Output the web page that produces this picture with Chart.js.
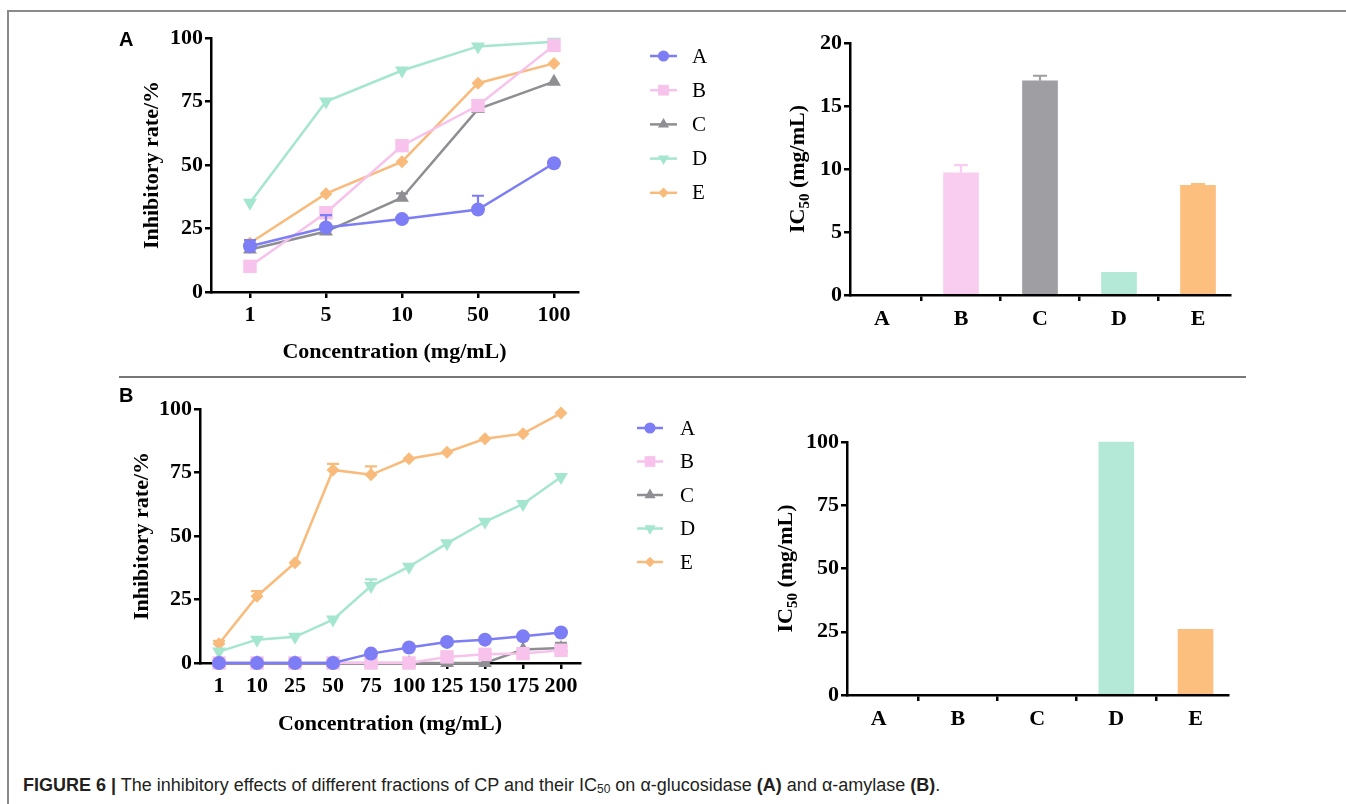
<!DOCTYPE html>
<html>
<head>
<meta charset="utf-8">
<script src="https://cdn.jsdelivr.net/npm/chart.js@4.4.1/dist/chart.umd.min.js"></script>
<style>
  body { margin: 0; background: #fff; width: 1346px; height: 804px; position: relative; overflow: hidden; font-family: 'Liberation Sans', Arial, sans-serif; }
  .box { position: absolute; }
  canvas { display: block; }
  .rule { position: absolute; background: #8a8a8a; }
  .panel { position: absolute; font: bold 20px 'Liberation Sans', Arial, sans-serif; color: #000; line-height: 1; z-index: 5; }
  #caption { position: absolute; left: 23px; top: 775px; font-size: 18px; color: #231f20; white-space: nowrap; }
  #caption sub { font-size: 12px; vertical-align: -2px; }
</style>
</head>
<body>
<div class="rule" style="left:7px;top:10px;width:1339px;height:2px;"></div>
<div class="rule" style="left:7px;top:10px;width:2px;height:794px;"></div>
<div class="rule" style="left:119px;top:376px;width:1127px;height:2px;background:#777;"></div>

<div class="panel" style="left:119px;top:29px;">A</div>
<div class="panel" style="left:119px;top:385px;">B</div>

<div class="box" style="left:100px;top:20px;"><canvas id="glucLine" width="620" height="360"></canvas></div>
<div class="box" style="left:740px;top:20px;"><canvas id="glucBar" width="492" height="340"></canvas></div>
<div class="box" style="left:90px;top:380px;"><canvas id="amylLine" width="620" height="360"></canvas></div>
<div class="box" style="left:737px;top:420px;"><canvas id="amylBar" width="493" height="320"></canvas></div>

<div id="caption"><b>FIGURE 6 |</b> The inhibitory effects of different fractions of CP and their IC<sub>50</sub> on α-glucosidase <b>(A)</b> and α-amylase <b>(B)</b>.</div>

<script>
// categorias e séries
const fractions = ['A', 'B', 'C', 'D', 'E'];
const concGluc = ['1', '5', '10', '50', '100'];
const concAmyl = ['1', '10', '25', '50', '75', '100', '125', '150', '175', '200'];

// alfa-glucosidase (%)
const glucA = [18.0, 25.4, 28.7, 32.5, 50.7];
const glucB = [10.1, 31.2, 57.6, 73.4, 97.1];
const glucC = [16.7, 23.8, 37.1, 72.0, 82.8];
const glucD = [35.1, 75.0, 87.2, 96.7, 98.5];
const glucE = [19.3, 38.7, 51.3, 82.2, 90.0];
const glucErrA = [2.4, 4.9, 0, 5.4, 0];
const glucErrC = [0, 0, 1.7, 0, 0];

// alfa-amilase (%)
const amylA = [0, 0, 0, 0, 3.7, 6.1, 8.3, 9.2, 10.5, 12.0];
const amylB = [0, 0, 0, 0, 0, 0, 2.4, 3.4, 3.7, 5.0];
const amylC = [0, 0, 0, 0, 0, 0, 0, 0, 5.3, 5.9];
const amylD = [4.5, 9.2, 10.3, 17.1, 30.3, 37.9, 47.1, 55.6, 62.6, 73.2];
const amylE = [7.6, 26.3, 39.5, 76.0, 74.1, 80.4, 83.0, 88.3, 90.3, 98.4];
const amylErrC = [0, 0, 0, 0, 0, 0, 0, 0, 0, 2.0];
const amylErrD = [0, 0, 0, 0, 2.6, 0, 0, 0, 0, 0];
const amylErrE = [1.1, 2.0, 0, 2.4, 3.3, 0, 0, 0, 0, 0];

// IC50 (mg/mL) - null = não determinado
const ic50Gluc = [null, 9.7, 17.0, 1.8, 8.7];
const ic50GlucErr = [0, 0.6, 0.4, 0, 0.1];
const ic50Amyl = [null, null, null, 100, 26];

const yTitle = 'Inhibitory rate/%';
const xTitle = 'Concentration (mg/mL)';
const icTitleParts = ['IC', '50', ' (mg/mL)'];

const lineColors = ['#7d7df5', '#f7c2eb', '#8e8e93', '#a5e6d0', '#f9bb7b'];
const barColors = ['#7d7df5', '#f9cdef', '#9e9ea3', '#b4e9d7', '#fdbf7e'];
const pointStyles = ['circle', 'rect', 'triangle', 'triangle', 'rectRot'];
const pointRot = [0, 0, 0, 180, 0];
const pointSizes = [7, 9.5, 8, 8, 6.5];

const SERIF = "'Liberation Serif', 'Times New Roman', serif";
Chart.defaults.color = '#000';
Chart.defaults.font.family = SERIF;

// barras de erro (só para cima, estilo GraphPad)
const errorBars = {
    id: 'errorBars',
    beforeDatasetDraw(chart, args) {
        const ds = chart.data.datasets[args.index];
        if (!ds.errors) return;
        const yScale = chart.scales.y;
        const ctx = chart.ctx;
        const cap = ds.errCap || 6;
        ctx.save();
        ctx.lineWidth = 2.2;
        args.meta.data.forEach((el, i) => {
            const e = ds.errors[i];
            if (!e) return;
            const raw = ds.data[i];
            const val = typeof raw === 'object' ? raw.y : raw;
            if (val === null) return;
            const yTop = yScale.getPixelForValue(val + e);
            ctx.strokeStyle = Array.isArray(ds.borderColor) ? ds.borderColor[i] : ds.borderColor;
            ctx.beginPath();
            ctx.moveTo(el.x, el.y);
            ctx.lineTo(el.x, yTop);
            ctx.moveTo(el.x - cap, yTop);
            ctx.lineTo(el.x + cap, yTop);
            ctx.stroke();
        });
        ctx.restore();
    }
};

// legenda ao lado com linha + marcador
const sideLegend = {
    id: 'sideLegend',
    afterDraw(chart, args, opts) {
        if (!opts || opts.x === undefined) return;
        const ctx = chart.ctx;
        chart.data.datasets.forEach((ds, i) => {
            const y = opts.y + i * opts.step;
            ctx.save();
            ctx.strokeStyle = ds.borderColor;
            ctx.lineWidth = 2.5;
            ctx.beginPath();
            ctx.moveTo(opts.x, y);
            ctx.lineTo(opts.x + opts.len, y);
            ctx.stroke();
            ctx.fillStyle = ds.borderColor;
            Chart.helpers.drawPoint(ctx, {
                pointStyle: ds.pointStyle, rotation: ds.pointRotation,
                radius: ds.pointRadius * 0.8, borderWidth: 0
            }, opts.x + opts.len / 2, y);
            ctx.fillStyle = '#000';
            ctx.font = '21px ' + SERIF;
            ctx.textBaseline = 'middle';
            ctx.fillText(ds.label, opts.textX, y + 1);
            ctx.restore();
        });
    }
};

// título IC50 com subscrito
const icTitle = {
    id: 'icTitle',
    afterDraw(chart, args, opts) {
        if (!opts || opts.x === undefined) return;
        const ctx = chart.ctx, area = chart.chartArea;
        const big = 'bold 22px ' + SERIF, small = 'bold 15px ' + SERIF;
        ctx.save();
        ctx.font = big;
        const w1 = ctx.measureText(icTitleParts[0]).width;
        const w3 = ctx.measureText(icTitleParts[2]).width;
        ctx.font = small;
        const w2 = ctx.measureText(icTitleParts[1]).width;
        ctx.translate(opts.x, (area.top + area.bottom) / 2);
        ctx.rotate(-Math.PI / 2);
        ctx.fillStyle = '#000';
        ctx.textBaseline = 'alphabetic';
        let x = -(w1 + w2 + w3) / 2;
        const base = 7;
        ctx.font = big; ctx.fillText(icTitleParts[0], x, base); x += w1;
        ctx.font = small; ctx.fillText(icTitleParts[1], x, base + 5); x += w2;
        ctx.font = big; ctx.fillText(icTitleParts[2], x, base);
        ctx.restore();
    }
};

Chart.register(errorBars, sideLegend, icTitle);

const tickFont = { family: SERIF, size: 22, weight: 'bold' };
const axisStyle = {
    border: { display: true, color: '#000', width: 2.5 },
    grid: { display: true, drawOnChartArea: false, drawTicks: true, tickLength: 6, color: '#000', lineWidth: 2.5 }
};

function makeLineSets(series, errs) {
    return series.map((s, i) => ({
        label: fractions[i],
        data: s.data,
        errors: errs[i] || null,
        borderColor: lineColors[i],
        backgroundColor: lineColors[i],
        pointBackgroundColor: lineColors[i],
        pointBorderWidth: 0,
        pointStyle: pointStyles[i],
        pointRotation: pointRot[i],
        pointRadius: pointSizes[i],
        borderWidth: 2.5,
        tension: 0,
        clip: false
    }));
}

function yAxis(max, step, width, titleOpts) {
    return Object.assign({}, axisStyle, {
        min: 0, max: max,
        ticks: { stepSize: step, font: tickFont, padding: 2 },
        afterFit: s => { s.width = width; },
        title: titleOpts || { display: false }
    });
}

// Painel A - linhas
const glucIdx = concGluc.map((_, i) => i);
new Chart(document.getElementById('glucLine'), {
    type: 'line',
    data: {
        datasets: makeLineSets(
            [glucA, glucB, glucC, glucD, glucE].map(arr => ({ data: arr.map((v, i) => ({ x: i, y: v })) })),
            [glucErrA, null, glucErrC, null, null]
        )
    },
    options: {
        responsive: false, animation: false,
        layout: { padding: { left: 0, top: 18, right: 142, bottom: 0 } },
        plugins: { legend: { display: false }, tooltip: { enabled: false },
            sideLegend: { x: 550, len: 27, textX: 592, y: 36, step: 34.2 } },
        scales: {
            x: Object.assign({}, axisStyle, {
                type: 'linear', min: -0.513, max: 4.316,
                afterBuildTicks: s => { s.ticks = glucIdx.map(v => ({ value: v })); },
                ticks: { font: tickFont, padding: 4, autoSkip: false, maxRotation: 0,
                    callback: v => concGluc[v] },
                afterFit: s => { s.height = 88; },
                title: { display: true, text: xTitle, font: tickFont, padding: { top: 0, bottom: 14 } }
            }),
            y: yAxis(100, 25, 111, { display: true, text: yTitle, font: tickFont, padding: { top: 39, bottom: 0 } })
        }
    }
});

// Painel B - linhas
new Chart(document.getElementById('amylLine'), {
    type: 'line',
    data: {
        labels: concAmyl,
        datasets: makeLineSets(
            [amylA, amylB, amylC, amylD, amylE].map(arr => ({ data: arr })),
            [null, null, amylErrC, amylErrD, amylErrE]
        )
    },
    options: {
        responsive: false, animation: false,
        layout: { padding: { left: 0, top: 29, right: 130, bottom: 0 } },
        plugins: { legend: { display: false }, tooltip: { enabled: false },
            sideLegend: { x: 547, len: 26, textX: 590, y: 48, step: 33.5 } },
        scales: {
            x: Object.assign({}, axisStyle, {
                type: 'category', offset: true,
                ticks: { font: tickFont, padding: 4, autoSkip: false, maxRotation: 0 },
                afterFit: s => { s.height = 77; },
                title: { display: true, text: xTitle, font: tickFont, padding: { top: 0, bottom: 2 } }
            }),
            y: yAxis(100, 25, 110, { display: true, text: yTitle, font: tickFont, padding: { top: 39, bottom: 0 } })
        }
    }
});

function barChart(id, values, errs, max, step, yWidth, pad, xHeight, xMin, xMax, titleX) {
    return new Chart(document.getElementById(id), {
        type: 'bar',
        data: {
            datasets: [{
                data: values.map((v, i) => ({ x: i, y: v })),
                errors: errs,
                errCap: 7,
                backgroundColor: barColors,
                borderColor: barColors,
                borderWidth: 0,
                barThickness: 35,
                clip: false
            }]
        },
        options: {
            responsive: false, animation: false,
            layout: { padding: pad },
            plugins: { legend: { display: false }, tooltip: { enabled: false }, icTitle: { x: titleX } },
            scales: {
                x: Object.assign({}, axisStyle, {
                    type: 'linear', min: xMin, max: xMax, offset: false,
                    afterBuildTicks: s => { s.ticks = fractions.map((_, i) => ({ value: i })); },
                    ticks: { font: tickFont, padding: 5, autoSkip: false, maxRotation: 0,
                        callback: v => fractions[v] },
                    afterFit: s => { s.height = xHeight; }
                }),
                y: yAxis(max, step, yWidth)
            }
        }
    });
}

barChart('glucBar', ic50Gluc, ic50GlucErr, 20, 5, 110,
    { left: 0, top: 23, right: 2, bottom: 0 }, 45 + 20, -0.405, 4.405, 57);

barChart('amylBar', ic50Amyl, null, 100, 25, 110,
    { left: 0, top: 22, right: 2, bottom: 0 }, 45, -0.4, 4.41, 48);
</script>
</body>
</html>
